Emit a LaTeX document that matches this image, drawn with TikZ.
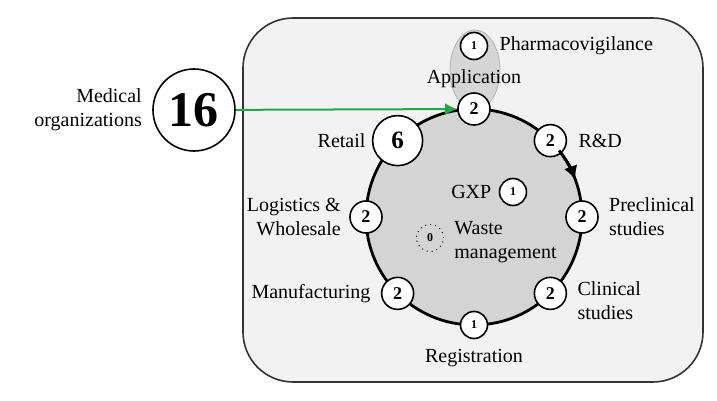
\documentclass[tikz,border=0pt]{standalone}
\usepackage{fontspec}
\setmainfont{Liberation Serif}
\usetikzlibrary{arrows.meta}
\usetikzlibrary{positioning}

\definecolor{boxgray}{RGB}{242,242,242}
\definecolor{ringgray}{RGB}{212,212,212}
\definecolor{ovalgray}{RGB}{214,214,214}
\definecolor{linkgreen}{RGB}{40,165,70}

\begin{document}
\begin{tikzpicture}[x=0.5pt, y=0.5pt]
    \tikzset{vertex/.style = {shape=circle,draw,fill=white,line width=0.8pt,inner sep=0pt}}
    \tikzset{two/.style = {vertex,minimum size=16pt,font=\fontsize{9}{9}\selectfont\bfseries}}
    \tikzset{one/.style = {vertex,minimum size=13.5pt,font=\fontsize{6}{6}\selectfont\bfseries}}
    \tikzset{txt/.style = {font=\fontsize{10}{12}\selectfont,inner sep=1pt}}
    \tikzset{edge/.style = {-{Latex[length=6pt,width=6pt]}}}

    \useasboundingbox (-474,217) rectangle (243,-184);

    % background
    \draw[fill=boxgray, draw=black!80, line width=0.8pt, rounded corners=25pt] (-231,199) rectangle (229,-165);
    \draw[fill=ringgray, line width=1.4pt] (0,0) circle (108);
    \draw[fill=ovalgray, draw=gray!60, line width=0.4pt] (1,147) ellipse (25 and 40);

    % vertices
    \node[two] (app) at (90:108) {2};
    \node[two] (rd) at (45:108) {2};
    \node[two] (pre) at (0:108) {2};
    \node[two] (clin) at (-45:108) {2};
    \node[one] (reg) at (-90:108) {1};
    \node[two] (manu) at (-135:108) {2};
    \node[two] (logi) at (180:108) {2};
    \node[vertex, minimum size=25pt, font=\fontsize{12.5}{12.5}\selectfont\bfseries] (retail) at (135:108) {6};
    \node[one] (pv) at (0,171) {1};
    \node[one] (gxp) at (39,25) {1};
    \node[one, fill=none, line width=0.5pt, dotted] (waste) at (-44,-21) {0};
    \node[vertex, minimum size=41pt, font=\fontsize{25}{25}\selectfont\bfseries] (med) at (-280,107) {16};

    % labels
    \node[txt, right=4.5pt of pv] (pvlab) {Pharmacovigilance};
    \node[txt, above=1pt of app] (applab) {Application};
    \node[txt, right=4.5pt of rd] (rdlab) {R\&D};
    \node[txt, left=2pt of retail] (retaillab) {Retail};
    \node[txt, left=3pt of logi, align=right] (logilab) {Logistics \&\\Wholesale};
    \node[txt, right=4pt of pre, align=left] (prelab) {Preclinical\\studies};
    \node[txt, right=4pt of clin, yshift=-3.5pt, align=left] (clinlab) {Clinical\\studies};
    \node[txt, below=4pt of reg] (reglab) {Registration};
    \node[txt, left=4pt of manu] (manulab) {Manufacturing};
    \node[txt, left=2.5pt of gxp] (gxplab) {GXP};
    \node[txt, right=4pt of waste, yshift=-2pt, align=left] (wastelab) {Waste\\management};
    \node[txt, left=4pt of med, align=right] (medlab) {Medical\\organizations};

    % edges
    \draw[edge, draw=linkgreen, fill=linkgreen, line width=1pt] (med) -- (app);
    \draw[-{Latex[length=7pt,width=7pt]}, line width=1.4pt] (38:108) arc (38:20:108);
\end{tikzpicture}
\end{document}
